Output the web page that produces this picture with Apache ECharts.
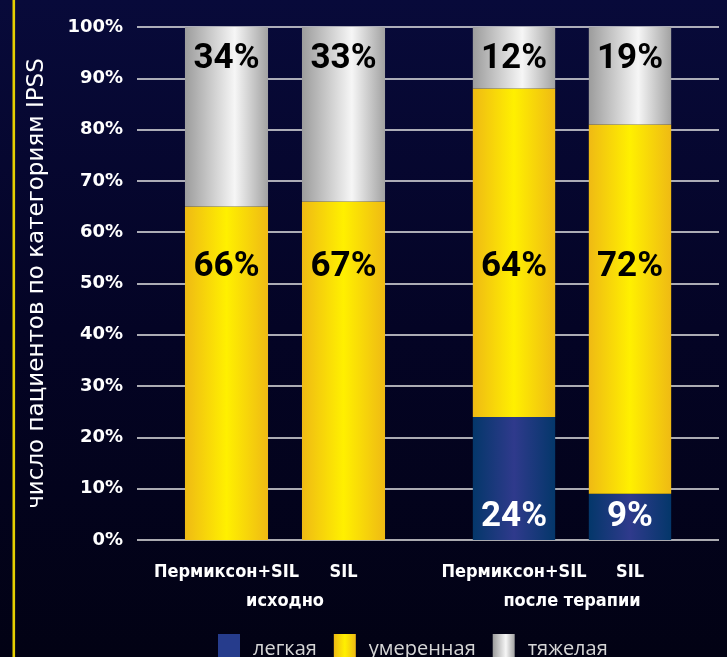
<!DOCTYPE html>
<html>
<head>
<meta charset="utf-8">
<script src="https://cdn.jsdelivr.net/npm/echarts@6/dist/echarts.min.js"></script>
<style>
html,body{margin:0;padding:0;background:#05062a;}
#chart{width:727px;height:657px;}
</style>
</head>
<body>
<div id="chart"></div>
<script>
// ---- data ----
const categories = ['Пермиксон+SIL', 'SIL'];
const groups = ['исходно', 'после терапии'];
const seriesNames = ['легкая', 'умеренная', 'тяжелая'];
// bar heights (order: исходно P+SIL, SIL, после P+SIL, SIL)
const mildValues = [0, 0, 24, 9];
const moderateValues = [65, 66, 64, 72];
const severeValues = [35, 34, 12, 19];
// printed labels
const mildLabels = [0, 0, 24, 9];
const moderateLabels = [66, 67, 64, 72];
const severeLabels = [34, 33, 12, 19];
const yTicks = [0, 10, 20, 30, 40, 50, 60, 70, 80, 90, 100];
const yAxisTitle = 'число пациентов по категориям IPSS';

// ---- styles ----
function hGrad(stops) {
  return new echarts.graphic.LinearGradient(0, 0, 1, 0, stops.map(s => ({offset: s[0], color: s[1]})));
}
const blueFill = hGrad([[0, '#04376a'], [0.5, '#2f3a8c'], [1, '#04376a']]);
const yellowFill = hGrad([[0, '#efba14'], [0.5, '#fff000'], [1, '#efba14']]);
const greyFill = hGrad([[0, '#9c9c9c'], [0.6, '#f6f6f6'], [1, '#a2a2a2']]);
const labelFont = {fontFamily: 'Roboto', fontWeight: 'bold', fontSize: 35, textBorderWidth: 0, textShadowBlur: 0};
const narrowFont = 'Liberation Sans Narrow, DejaVu Sans Condensed, sans-serif';

const TOP = 27, BOTTOM = 117;
const grids = [
  {left: 137, right: 8, top: TOP, bottom: BOTTOM},
  {left: 168, width: 234, top: TOP, bottom: BOTTOM},
  {left: 456, width: 232, top: TOP, bottom: BOTTOM}
];

const xAxes = [
  {gridIndex: 0, type: 'category', data: [''], show: false}
];
const yAxes = [
  {
    gridIndex: 0, type: 'value', min: 0, max: 100, interval: 10,
    name: yAxisTitle, nameLocation: 'middle', nameGap: 88,
    nameTextStyle: {color: '#ffffff', fontSize: 23, fontFamily: 'DejaVu Sans'},
    axisLine: {show: false}, axisTick: {show: false},
    axisLabel: {
      color: '#ffffff', fontSize: 18, fontWeight: 'bold', fontFamily: 'DejaVu Sans', margin: 14,
      formatter: v => yTicks.includes(v) ? v + '%' : ''
    },
    splitLine: {lineStyle: {color: '#e4e4e4', width: 1.6}}
  }
];
const series = [];
groups.forEach((g, gi) => {
  const idx = gi + 1;
  xAxes.push({
    gridIndex: idx, type: 'category', data: categories,
    name: g, nameLocation: 'middle', nameGap: 52,
    nameTextStyle: {color: '#ffffff', fontSize: 18, fontWeight: 'bold', fontFamily: narrowFont},
    axisLine: {show: false}, axisTick: {show: false},
    axisLabel: {interval: 0, color: '#ffffff', fontSize: 18, fontWeight: 'bold', fontFamily: narrowFont, margin: 23}
  });
  yAxes.push({gridIndex: idx, type: 'value', min: 0, max: 100, show: false});
  const sl = (arr) => arr.slice(gi * 2, gi * 2 + 2);
  const mL = sl(mildLabels), modL = sl(moderateLabels), sevL = sl(severeLabels);
  series.push({
    name: seriesNames[0], type: 'bar', stack: 's' + gi, xAxisIndex: idx, yAxisIndex: idx,
    barCategoryGap: '29%', data: sl(mildValues),
    itemStyle: {color: blueFill},
    label: {show: true, position: 'insideBottom', distance: 5, color: '#ffffff', ...labelFont,
      formatter: p => mL[p.dataIndex] ? mL[p.dataIndex] + '%' : ''}
  });
  series.push({
    name: seriesNames[1], type: 'bar', stack: 's' + gi, xAxisIndex: idx, yAxisIndex: idx,
    barCategoryGap: '29%', data: sl(moderateValues),
    itemStyle: {color: yellowFill}
  });
  series.push({
    name: seriesNames[2], type: 'bar', stack: 's' + gi, xAxisIndex: idx, yAxisIndex: idx,
    barCategoryGap: '29%', data: sl(severeValues),
    itemStyle: {color: greyFill},
    label: {show: true, position: 'insideTop', distance: 15, color: '#000000', ...labelFont,
      formatter: p => sevL[p.dataIndex] + '%'}
  });
  // labels of the moderate segment, placed at a common height
  series.push({
    type: 'scatter', xAxisIndex: idx, yAxisIndex: idx, symbolSize: 0, silent: true,
    itemStyle: {opacity: 1},
    data: modL.map((v, i) => [i, 53.2]),
    label: {show: true, position: 'inside', color: '#000000', opacity: 1, ...labelFont,
      formatter: p => modL[p.dataIndex] + '%'}
  });
});

const chart = echarts.init(document.getElementById('chart'));
chart.setOption({
  animation: false,
  backgroundColor: new echarts.graphic.LinearGradient(0, 0, 0, 1, [
    {offset: 0, color: '#080a3a'}, {offset: 0.5, color: '#040425'}, {offset: 1, color: '#020214'}
  ]),
  graphic: [{type: 'rect', left: 12.5, top: 0, shape: {width: 2.6, height: 657}, style: {fill: '#e6cf00'}}],
  legend: {
    left: 213, top: 629, icon: 'rect', itemWidth: 22, itemHeight: 30, itemGap: 17,
    textStyle: {color: '#d6d6d6', fontSize: 20, fontFamily: 'Open Sans', padding: [0, 0, 0, 8]},
    data: [
      {name: seriesNames[0], itemStyle: {color: '#263c8c'}},
      {name: seriesNames[1], itemStyle: {color: yellowFill}},
      {name: seriesNames[2], itemStyle: {color: greyFill}}
    ]
  },
  grid: grids,
  xAxis: xAxes,
  yAxis: yAxes,
  series: series
});
</script>
</body>
</html>
